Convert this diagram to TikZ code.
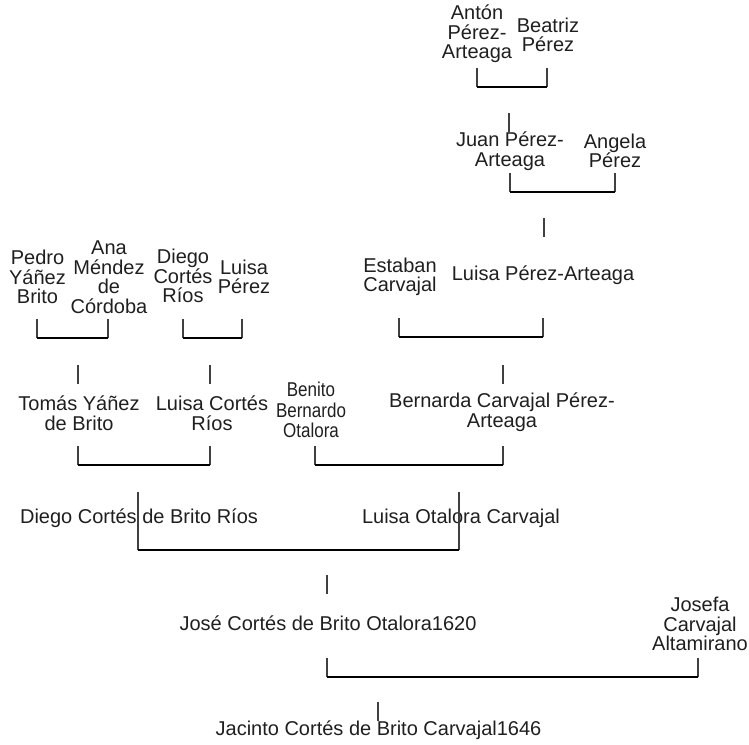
\documentclass[tikz,border=0pt]{standalone}
\usepackage{fontspec}
\usepackage{graphicx}
\setmainfont{Liberation Sans}
\begin{document}
\begin{tikzpicture}[x=1pt,y=-1pt,
  person/.style={font=\fontsize{20}{19.5}\selectfont, align=center, inner sep=0pt, text=black!88},
  stem/.style={draw=black!75, line width=1.1pt},
  bar/.style={draw=black, line width=2.6pt},
]
\useasboundingbox (0,0) rectangle (749,744);

% ---- people ----
\node[person] (anton)    at (477,34)  {Antón\\Pérez-\\Arteaga};
\node[person] (beatriz)  at (548,35)  {Beatriz\\Pérez};
\node[person] (juan)     at (510,151) {Juan Pérez-\\Arteaga};
\node[person] (angela)   at (615,151) {Angela\\Pérez};
\node[person] (estaban)  at (400,277) {Estaban\\Carvajal};
\node[person] (luisapa)  at (543,275) {Luisa Pérez-Arteaga};
\node[person] (pedro)    at (37.5,277) {Pedro\\Yáñez\\Brito};
\node[person] (ana)      at (109,277) {Ana\\Méndez\\de\\Córdoba};
\node[person] (diegocr)  at (183,276) {Diego\\Cortés\\Ríos};
\node[person] (luisap)   at (244,277) {Luisa\\Pérez};
\node[person] (tomas)    at (79,413)  {Tomás Yáñez\\de Brito};
\node[person] (luisacr)  at (212,413) {Luisa Cortés\\Ríos};
% this name is set narrower to fit between its neighbours
\node[person] (benito)   at (311,413)
  {\scalebox{0.85}[1]{\fontsize{20}{20}\selectfont
   \begin{tabular}{@{}c@{}}Benito\\Bernardo\\Otalora\end{tabular}}};
\node[person] (bernarda) at (502,412) {Bernarda Carvajal Pérez-\\Arteaga};
\node[person] (diegocbr) at (139,518) {Diego Cortés de Brito Ríos};
\node[person] (luisaoc)  at (461,518) {Luisa Otalora Carvajal};
\node[person] (jose)     at (328,623) {José Cortés de Brito Otalora1620};
\node[person] (josefa)   at (700,624) {Josefa\\Carvajal\\Altamirano};
\node[person] (jacinto)  at (378.5,730) {Jacinto Cortés de Brito Carvajal1646};

% ---- couple brackets: ends of each bar ----
\coordinate (k1a) at (477,87);  \coordinate (k1b) at (547,87);
\coordinate (k2a) at (510,192); \coordinate (k2b) at (615,192);
\coordinate (k3a) at (399,337); \coordinate (k3b) at (543,337);
\coordinate (k4a) at (37,338);  \coordinate (k4b) at (108,338);
\coordinate (k5a) at (183,338); \coordinate (k5b) at (242,338);
\coordinate (k6a) at (78,465);  \coordinate (k6b) at (210,465);
\coordinate (k7a) at (315,465); \coordinate (k7b) at (503,465);
\coordinate (k8a) at (138,550); \coordinate (k8b) at (459,550);
\coordinate (k9a) at (327,677); \coordinate (k9b) at (698,677);

\foreach \k in {k1,k2,k3,k4,k5,k6,k7,k9}{
  \draw[stem] (\k a) ++(0,-19) -- (\k a);
  \draw[stem] (\k b) ++(0,-19) -- (\k b);
}
% stems that run through the names
\draw[stem] (k8a) ++(0,-58) -- (k8a);
\draw[stem] (k8b) ++(0,-58) -- (k8b);

\foreach \k in {k1,k2,k3,k4,k5,k6,k7,k8,k9}{
  \draw[bar] (\k a) -- (\k b);
}

% ---- descent ticks above children ----
\coordinate (t1) at (509,113);
\coordinate (t2) at (544,218);
\coordinate (t3) at (78,365);
\coordinate (t4) at (210,365);
\coordinate (t5) at (503,365);
\coordinate (t6) at (327,575);
\coordinate (t7) at (378,702);
\foreach \t in {t1,t2,t3,t4,t5,t6,t7}{
  \draw[stem] (\t) -- ++(0,18.5);
}
\end{tikzpicture}
\end{document}
